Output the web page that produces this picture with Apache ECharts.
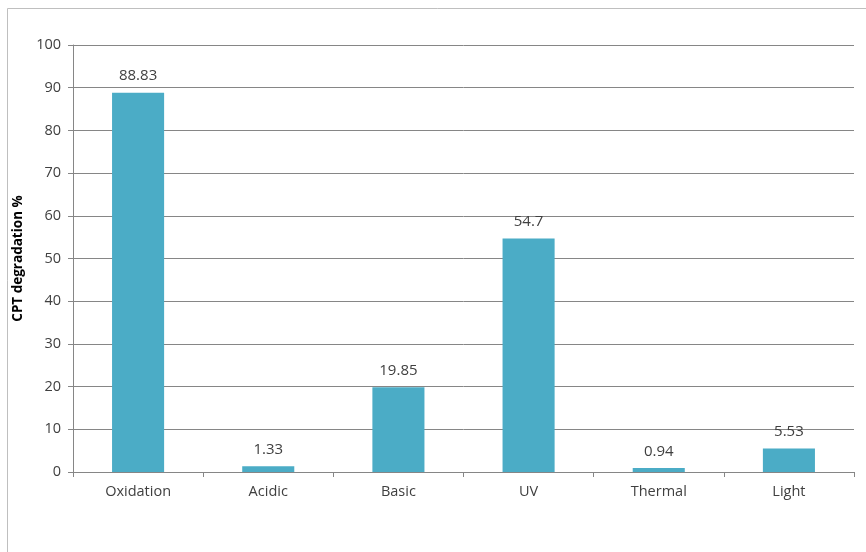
<!DOCTYPE html>
<html>
<head>
<meta charset="utf-8">
<script src="https://cdn.jsdelivr.net/npm/echarts@6/dist/echarts.min.js"></script>
<style>
  html, body { margin: 0; padding: 0; background: #fff; }
  #chart { width: 866px; height: 552px; }
</style>
</head>
<body>
<div id="chart"></div>
<script>
// Stress conditions and measured CPT degradation (%)
const conditions = ['Oxidation', 'Acidic', 'Basic', 'UV', 'Thermal', 'Light'];
const degradation = [88.83, 1.33, 19.85, 54.7, 0.94, 5.53];
const yTicks = { min: 0, max: 100, step: 10 };

const FONT = '"Open Sans", "Liberation Sans", sans-serif';
const TEXT = '#404040';
const LINE = '#868686';

const chart = echarts.init(document.getElementById('chart'), null, { renderer: 'canvas' });
chart.setOption({
  animation: false,
  backgroundColor: '#ffffff',
  graphic: [{
    type: 'rect',
    shape: { x: 7.5, y: 8.5, width: 900, height: 600 },
    style: { fill: 'none', stroke: '#bfbfbf', lineWidth: 1 },
    silent: true
  }],
  grid: { left: 73, right: 12, top: 45, bottom: 80, containLabel: false },
  xAxis: {
    type: 'category',
    data: conditions,
    boundaryGap: true,
    axisLine: { lineStyle: { color: LINE, width: 1 } },
    axisTick: { show: true, length: 5, lineStyle: { color: LINE } },
    axisLabel: { color: TEXT, fontFamily: FONT, fontSize: 14.5, margin: 12 }
  },
  yAxis: {
    type: 'value',
    min: yTicks.min,
    max: yTicks.max,
    interval: yTicks.step,
    name: 'CPT degradation %',
    nameLocation: 'middle',
    nameGap: 45,
    nameRotate: 90,
    nameTextStyle: { color: '#000', fontFamily: FONT, fontSize: 13.5, fontWeight: 'bold' },
    axisLine: { show: true, lineStyle: { color: LINE, width: 1 } },
    axisTick: { show: true, length: 5, lineStyle: { color: LINE } },
    axisLabel: { color: TEXT, fontFamily: FONT, fontSize: 14.5, margin: 12 },
    splitLine: { show: true, lineStyle: { color: LINE, width: 1 } }
  },
  series: [{
    type: 'bar',
    data: degradation,
    barWidth: '40%',
    itemStyle: { color: '#4bacc6' },
    label: {
      show: true,
      position: 'top',
      distance: 9,
      color: TEXT,
      fontFamily: FONT,
      fontSize: 15,
      formatter: p => String(p.value)
    }
  }]
});
</script>
</body>
</html>
